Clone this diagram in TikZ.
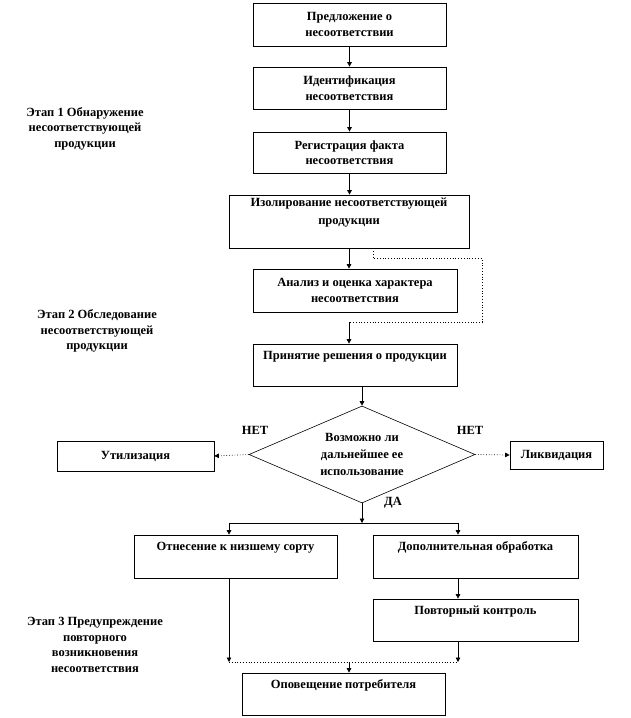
\documentclass[tikz,border=0pt]{standalone}
\usepackage{fontspec}
\setmainfont{Liberation Serif}
\usetikzlibrary{shapes.geometric,arrows.meta}
\begin{document}
\begin{tikzpicture}[x=1pt,y=-1pt,
  every node/.style={font=\fontsize{12.5}{15.5}\selectfont\bfseries, align=center},
  box/.style={draw, line width=0.7pt, inner sep=0pt},
  arr/.style={-{Triangle[length=4.5pt,width=4.5pt]}, line width=0.7pt},
  dots/.style={dotted, line width=0.8pt},
  lbl/.style={inner sep=0pt}]
\useasboundingbox[fill=white] (0,0) rectangle (630,718);
% stage labels
\node[lbl] (s1) at (85,128.5) {Этап 1 Обнаружение\\несоответствующей\\продукции};
\node[lbl] (s2) at (97,331) {Этап 2 Обследование\\несоответствующей\\продукции};
\node[lbl] (s3) at (95,645) {Этап 3 Предупреждение\\повторного\\возникновения\\несоответствия};
% boxes
\node[box, minimum width=193pt, minimum height=43pt] (b1) at (349.5,24.5) {Предложение  о\\несоответствии};
\node[box, minimum width=193pt, minimum height=42pt] (b2) at (349.5,88) {Идентификация\\несоответствия};
\node[box, minimum width=193pt, minimum height=41pt] (b3) at (349.5,152.5) {Регистрация факта\\несоответствия};
\node[box, minimum width=240pt, minimum height=53pt] (b4) at (349,221.5) {Изолирование несоответствующей\\[2pt]продукции\\ \strut};
\node[box, minimum width=204pt, minimum height=43pt] (b5) at (355,290.5) {Анализ и оценка характера\\несоответствия};
\node[box, minimum width=204pt, minimum height=42pt] (b6) at (355,365) {Принятие  решения о продукции\\ \strut};
\node[draw, line width=0.6pt, shape=diamond, aspect=2.33, minimum width=226pt, minimum height=97pt, inner sep=0pt,
  font=\fontsize{12.5}{17}\selectfont\bfseries] (d) at (362,454.5) {Возможно ли\\дальнейшее  ее\\использование};
\node[box, minimum width=157pt, minimum height=30pt] (u) at (135.5,456) {Утилизация};
\node[box, minimum width=93pt, minimum height=28pt] (l) at (556.5,455) {Ликвидация};
\node[lbl] (n1) at (255,430) {НЕТ};
\node[lbl] (n2) at (470,430) {НЕТ};
\node[lbl] (da) at (393,503) {ДА};
\node[box, minimum width=203pt, minimum height=43pt] (b7) at (235.5,556.5) {Отнесение  к низшему сорту\\ \strut};
\node[box, minimum width=205pt, minimum height=43pt] (b8) at (475.5,556.5) {Дополнительная  обработка\\ \strut};
\node[box, minimum width=205pt, minimum height=42pt] (b9) at (475.5,620) {Повторный контроль\\ \strut};
\node[box, minimum width=203pt, minimum height=42pt] (b10) at (343.5,694) {Оповещение потребителя\\ \strut};
% coordinates
\coordinate (byp) at (482,322);
\coordinate (br) at (362,523);
\coordinate (jl) at (229,523);
\coordinate (jr) at (458,523);
\coordinate (ml) at (229,662);
\coordinate (mr) at (458,662);
\coordinate (mm) at (349,662);
% connectors
\draw[arr] (b1) -- (b2);
\draw[arr] (b2) -- (b3);
\draw[arr] (b3.south) -- (b3.south |- b4.north);
\draw[arr] (b4.south) -- (b4.south |- b5.north);
\draw[dots] ([xshift=24pt]b4.south) -- ++(0,10) -| (byp) -- (byp -| b4.south);
\draw[arr] (byp -| b4.south) -- (b4.south |- b6.north);
\draw[arr] (d.north |- b6.south) -- (d.north);
\draw[arr] (d.south) -- (br);
\draw[line width=0.7pt] (jl) -- (jr);
\draw[arr] (jl) -- (jl |- b7.north);
\draw[arr] (jr) -- (jr |- b8.north);
\draw[arr] (jr |- b8.south) -- (jr |- b9.north);
\draw[arr] (jl |- b7.south) -- (ml);
\draw[arr] (jr |- b9.south) -- (mr);
\draw[dots] (ml) -- (mr);
\draw[arr] (mm) -- (mm |- b10.north);
\draw[arr, dotted] (d.west) -- (u.east);
\draw[arr, dotted] (d.east) -- (l.west);
\end{tikzpicture}
\end{document}
